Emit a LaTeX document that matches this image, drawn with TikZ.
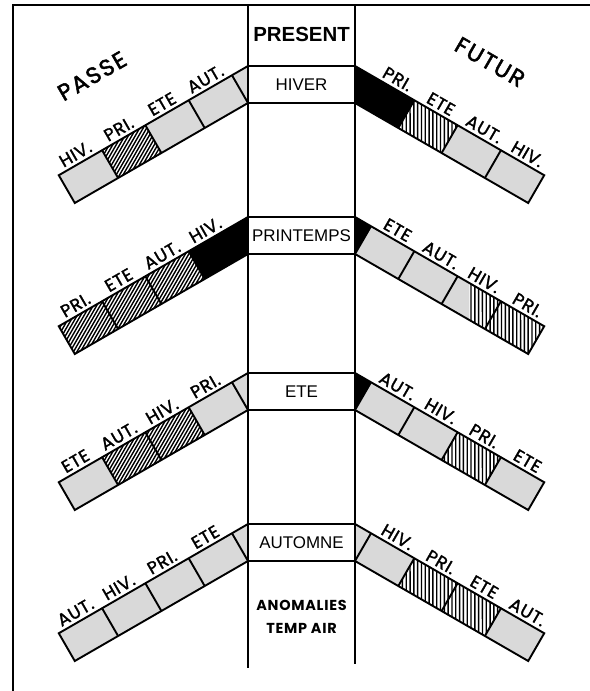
\documentclass[tikz,border=0pt]{standalone}
\usepackage{fontspec}
\setmainfont{Liberation Sans}
\newfontfamily\geo{Poppins}[FakeBold=1.6, LetterSpace=4]
\newfontfamily\geob{Poppins}[LetterSpace=5]
\newfontfamily\geobig{Poppins}[FakeBold=2, LetterSpace=8]
\newcommand\Th{32.04}
\newcommand\Tw{18.5}
\newcommand\Lcell[2]{\fill[lite] (#1,0) -- (#2,0) -- (#2,\Th) -- (#1,\Th) -- cycle;}
\newcommand\Bcell[2]{\fill[black] (#1,0) -- (#2,0) -- (#2,\Th) -- (#1,\Th) -- cycle;}
\newcommand\Ltri{\fill[lite] (0,0) -- (\Tw,0) -- (\Tw,\Th) -- cycle;}
\newcommand\Btri{\fill[black] (0,0) -- (\Tw,0) -- (\Tw,\Th) -- cycle;}
\newcommand\HL[2]{\begin{scope}\clip (#1,0) -- (#2,0) -- (#2,\Th) -- (#1,\Th) -- cycle;
 \foreach \q in {-70,-64,...,230}{\draw[hatch] (\q,-2) -- ++(62.4,36);}\end{scope}}
\newcommand\HR[3]{\begin{scope}\clip (#1,0) -- (#2,0) -- (#2,\Th) -- (#3,\Th) -- cycle;
 \foreach \q in {-30,-25.6,...,230}{\draw[hatch] (\q,-2) -- ++(20.8,36);}\end{scope}}
\newcommand\Frame{\foreach \d in {18.5,68.5,118.5,168.5}{\draw[div] (\d,0) -- (\d,\Th);}
 \draw[barline] (0,0) -- (218.5,0) -- (218.5,\Th) -- (\Tw,\Th);}
\newcommand\Labs[6]{%
 \node[lab,rotate=#2] (#1a) at (43.5,-4) {#3};
 \node[lab,rotate=#2] (#1b) at (93.5,-4) {#4};
 \node[lab,rotate=#2] (#1c) at (143.5,-4) {#5};
 \node[lab,rotate=#2] (#1d) at (193.5,-4) {#6};}
\begin{document}
\begin{tikzpicture}[x=1bp,y=-1bp,
  lite/.style={fill=black!15},
  hatch/.style={line width=1.4bp},
  div/.style={line width=1.9bp},
  barline/.style={line width=1.9bp, line join=miter},
  lab/.style={font=\geo\fontsize{17.5}{17.5}\selectfont, anchor=base, inner sep=0pt},
  big/.style={font=\geobig\fontsize{23}{23}\selectfont, inner sep=0pt},
  leftbar/.style={shift={(248,#1)}, x={(-0.866bp,-0.5bp)}, y={(0.5bp,-0.866bp)}},
  rightbar/.style={shift={(355,#1)}, x={(0.866bp,-0.5bp)}, y={(-0.5bp,-0.866bp)}},
  box/.style={draw, line width=1.6bp, minimum width=107bp, minimum height=37bp, inner sep=0pt,
     font=\fontsize{17}{17}\selectfont},
  colline/.style={line width=1.9bp},
  frameline/.style={line width=1.7bp}]
\useasboundingbox (0,0) rectangle (590,691);
\fill[white] (0,0) rectangle (590,691);
% ---- row 1 : HIVER
\begin{scope}[leftbar=66]
 \Ltri \Lcell{18.5}{68.5}\Lcell{68.5}{118.5}\HL{118.5}{168.5}\Lcell{168.5}{218.5}
 \Frame \Labs{l1}{30}{AUT.}{ETE}{PRI.}{HIV.}
\end{scope}
\begin{scope}[rightbar=66]
 \Btri \Bcell{18.5}{68.5}\HR{68.5}{118.5}{68.5}\Lcell{118.5}{168.5}\Lcell{168.5}{218.5}
 \Frame \Labs{r1}{-30}{PRI.}{ETE}{AUT.}{HIV.}
\end{scope}
% ---- row 2 : PRINTEMPS
\begin{scope}[leftbar=217]
 \Btri \Bcell{18.5}{68.5}\HL{68.5}{118.5}\HL{118.5}{168.5}\HL{168.5}{218.5}
 \Frame \Labs{l2}{30}{HIV.}{AUT.}{ETE}{PRI.}
\end{scope}
\begin{scope}[rightbar=217]
 \Btri \Lcell{18.5}{68.5}\Lcell{68.5}{118.5}
 \fill[lite] (118.5,0) -- (132,0) -- (150.5,\Th) -- (118.5,\Th) -- cycle;
 \HR{132}{218.5}{150.5}
 \Frame \Labs{r2}{-30}{ETE}{AUT.}{HIV.}{PRI.}
\end{scope}
% ---- row 3 : ETE
\begin{scope}[leftbar=373]
 \Ltri \Lcell{18.5}{68.5}\HL{68.5}{118.5}\HL{118.5}{168.5}\Lcell{168.5}{218.5}
 \Frame \Labs{l3}{30}{PRI.}{HIV.}{AUT.}{ETE}
\end{scope}
\begin{scope}[rightbar=373]
 \Btri \Lcell{18.5}{68.5}\Lcell{68.5}{118.5}\HR{118.5}{168.5}{118.5}\Lcell{168.5}{218.5}
 \Frame \Labs{r3}{-30}{AUT.}{HIV.}{PRI.}{ETE}
\end{scope}
% ---- row 4 : AUTOMNE
\begin{scope}[leftbar=524]
 \Ltri \Lcell{18.5}{68.5}\Lcell{68.5}{118.5}\Lcell{118.5}{168.5}\Lcell{168.5}{218.5}
 \Frame \Labs{l4}{30}{ETE}{PRI.}{HIV.}{AUT.}
\end{scope}
\begin{scope}[rightbar=524]
 \Ltri \Lcell{18.5}{68.5}\HR{68.5}{118.5}{68.5}\HR{118.5}{168.5}{118.5}\Lcell{168.5}{218.5}
 \Frame \Labs{r4}{-30}{HIV.}{PRI.}{ETE}{AUT.}
\end{scope}
% ---- frame and column
\draw[frameline] (13,691) -- (13,5) -- (590,5);
\node[box] (hiver) at (301.5,84.5) {HIVER};
\node[box] (printemps) at (301.5,235.5) {PRINTEMPS};
\node[box] (ete) at (301.5,391.5) {ETE};
\node[box] (automne) at (301.5,542.5) {AUTOMNE};
\draw[colline] (248,5) -- (248,668);
\draw[colline] (355,5) -- (355,664);
\node[font=\bfseries\fontsize{20.5}{20.5}\selectfont, inner sep=0pt] (present) at (301.5,34) {PRESENT};
\node[font=\geob\bfseries\fontsize{14.5}{14.5}\selectfont, inner sep=0pt] (anom) at (301.5,605) {ANOMALIES};
\node[font=\geob\bfseries\fontsize{14.5}{14.5}\selectfont, inner sep=0pt] (temp) at (301.5,628) {TEMP AIR};
\node[big, rotate=30] (passe) at (92,76) {PASSE};
\node[big, rotate=-30] (futur) at (490,62) {FUTUR};
\end{tikzpicture}
\end{document}
